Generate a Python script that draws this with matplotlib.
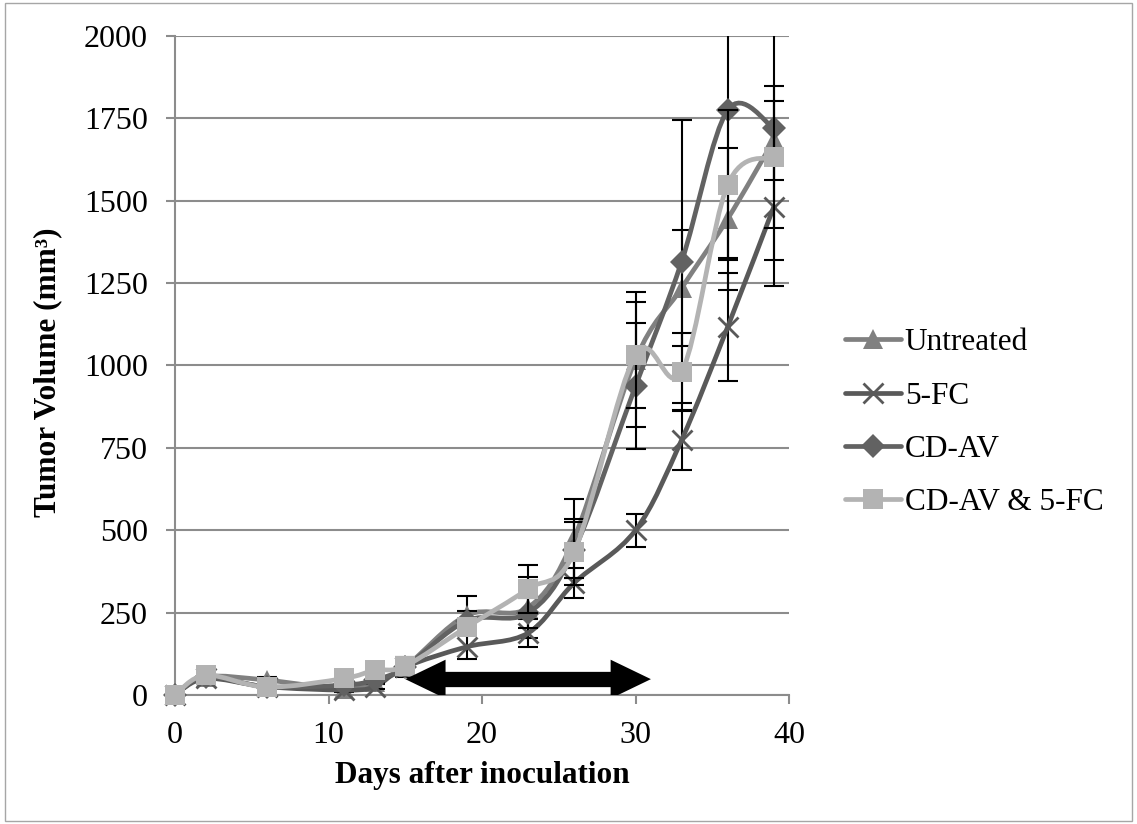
# tumor volume chart, Excel-style smoothed lines with error bars
import numpy as np
import matplotlib
matplotlib.use('Agg')
import matplotlib.pyplot as plt
from matplotlib.path import Path
from matplotlib.patches import PathPatch, FancyArrowPatch, Rectangle
from matplotlib.lines import Line2D

plt.rcParams['font.family'] = ['Liberation Serif', 'DejaVu Serif']

# data
days = [0, 2, 6, 11, 13, 15, 19, 23, 26, 30, 33, 36, 39]

untreated = [0, 55, 45, 18, 40, 85, 242, 265, 476, 1018, 1235, 1445, 1684]
untreated_err = [0, 15, 8, 6, 8, 30, 58, 93, 120, 206, 176, 215, 120]

fc5 = [0, 50, 25, 15, 25, 85, 146, 188, 340, 500, 774, 1117, 1481]
fc5_err = [0, 10, 6, 6, 8, 10, 37, 42, 45, 50, 91, 165, 240]

cdav = [0, 55, 25, 30, 45, 85, 225, 249, 440, 938, 1315, 1775, 1721]
cdav_err = [0, 10, 6, 6, 8, 10, 30, 45, 85, 190, 430, 450, 400]

combo = [0, 60, 24, 50, 75, 88, 206, 322, 434, 1032, 980, 1548, 1633]
combo_err = [0, 12, 6, 6, 8, 10, 25, 72, 100, 162, 118, 228, 215]

labels = ['Untreated', '5-FC', 'CD-AV', 'CD-AV & 5-FC']
xticks = [0, 10, 20, 30, 40]
yticks = [0, 250, 500, 750, 1000, 1250, 1500, 1750, 2000]
arrow_days = (15, 31)
arrow_level = 48


def smooth_path(x, y):
    # cubic bezier segments through the points (catmull-rom control points)
    pts = np.column_stack([x, y]).astype(float)
    n = len(pts)
    verts = [pts[0]]
    codes = [Path.MOVETO]
    for i in range(n - 1):
        p0 = pts[max(i - 1, 0)]
        p1 = pts[i]
        p2 = pts[i + 1]
        p3 = pts[min(i + 2, n - 1)]
        c1 = p1 + (p2 - p0) / 6.0
        c2 = p2 - (p3 - p1) / 6.0
        verts += [c1, c2, p2]
        codes += [Path.CURVE4] * 3
    return Path(verts, codes)


fig = plt.figure(figsize=(11.37, 8.24), dpi=100)
ax = fig.add_axes([0.1539, 0.1566, 0.5401, 0.7997])

series = [
    (untreated, untreated_err, '#808080', '^', 14, 0),
    (fc5, fc5_err, '#595959', 'x', 14, 2.0),
    (cdav, cdav_err, '#626262', 'D', 12.5, 0),
    (combo, combo_err, '#b3b3b3', 's', 14, 0),
]

handles = []
for k, (vals, err, col, mk, ms, mew) in enumerate(series):
    ax.errorbar(days, vals, yerr=err, fmt='none', ecolor='black',
                elinewidth=1.5, capsize=7.5, capthick=1.5, zorder=2 + k)
    ax.add_patch(PathPatch(smooth_path(days, vals), facecolor='none',
                           edgecolor=col, lw=3.4, capstyle='round',
                           zorder=2.5 + k))
    ax.plot(days, vals, linestyle='none', marker=mk, markersize=ms,
            color=col, markeredgecolor=col, markeredgewidth=mew,
            clip_on=False, zorder=2.6 + k)
    handles.append(Line2D([], [], color=col, lw=3.4, marker=mk,
                          markersize=ms, markeredgecolor=col,
                          markeredgewidth=mew, solid_capstyle='round'))

# double-headed arrow marking the treatment window:
# one thick shaft running into a head at each end
ax.plot([arrow_days[0] + 2, arrow_days[1] - 2], [arrow_level, arrow_level],
        color='black', lw=11, solid_capstyle='butt', zorder=10)
for start, end in [(arrow_days[0] + 4, arrow_days[0]), (arrow_days[1] - 4, arrow_days[1])]:
    ax.add_patch(FancyArrowPatch((start, arrow_level), (end, arrow_level),
                                 arrowstyle='simple,head_length=29,head_width=28,tail_width=0.5',
                                 mutation_scale=1, color='black', lw=0,
                                 shrinkA=0, shrinkB=0, zorder=10))

ax.set_xlim(0, 40)
ax.set_ylim(0, 2000)
ax.set_xticks(xticks)
ax.set_yticks(yticks)
ax.grid(axis='y', color='#8c8c8c', lw=1.5)
ax.set_axisbelow(True)
for s in ['top', 'right']:
    ax.spines[s].set_visible(False)
for s in ['left', 'bottom']:
    ax.spines[s].set_color('#8c8c8c')
    ax.spines[s].set_linewidth(1.5)
ax.tick_params(axis='both', colors='#8c8c8c', width=1.5, length=6.5,
               labelcolor='black', labelsize=23)
ax.tick_params(axis='y', pad=13)
ax.tick_params(axis='x', pad=12)

ax.set_xlabel('Days after inoculation', fontsize=22.5, fontweight='bold')
ax.set_ylabel('Tumor Volume (mm³)', fontsize=22.5, fontweight='bold')
ax.xaxis.set_label_coords(0.5, -0.100)
ax.yaxis.set_label_coords(-0.183, 0.49)

fig.legend(handles, labels, loc='center left', bbox_to_anchor=(0.743, 0.487),
           frameon=False, fontsize=22.5, handlelength=1.8, handletextpad=0.12,
           labelspacing=0.78, borderpad=0, borderaxespad=0, numpoints=1)

fig.patches.append(Rectangle((0.004, 0.004), 0.992, 0.992, transform=fig.transFigure,
                             fill=False, edgecolor='#a6a6a6', lw=1))

fig.savefig('out.png', dpi=100)
